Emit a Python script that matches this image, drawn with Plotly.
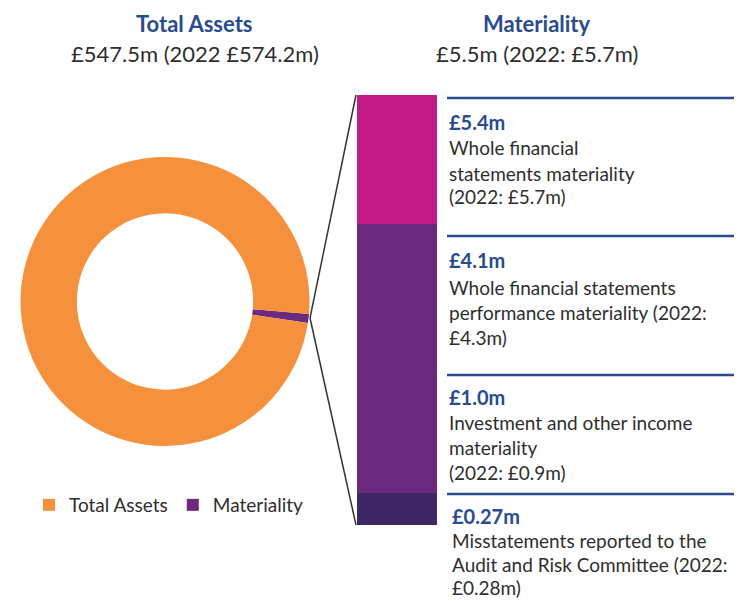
import plotly.graph_objects as go

# page body has an 8px margin, so the figure is drawn 8px in from the top-left
OFF = 8
W, H = 742 - OFF, 601 - OFF

# ---- data ----
donut_labels = ["Materiality", "Total Assets"]
donut_values = [5.5, 547.5]
donut_colors = ["#6B2A7E", "#F5913D"]

bar_segments = ["Misstatements", "Investment", "Performance"]
bar_values = [0.41, 3.44, 1.65]  # visual segment heights (bottom to top)
bar_colors = ["#3F2766", "#6B2A7E", "#C21A86"]

amounts = ["£5.4m", "£4.1m", "£1.0m", "£0.27m"]
descriptions = [
    ["Whole financial", "statements materiality", "(2022: £5.7m)"],
    ["Whole financial statements", "performance materiality (2022:", "£4.3m)"],
    ["Investment and other income", "materiality", "(2022: £0.9m)"],
    ["Misstatements reported to the", "Audit and Risk Committee (2022:", "£0.28m)"],
]

titles = ["Total Assets", "Materiality"]
subtitles = ["£547.5m (2022 £574.2m)", "£5.5m (2022: £5.7m)"]

BLUE = "#2A4B8D"
GREY = "#2E2E2E"
FONT = "Lato"


def px(x):
    return (x - OFF) / W


def py(y):
    return 1 - (y - OFF) / H


fig = go.Figure()

fig.add_trace(go.Pie(
    labels=donut_labels, values=donut_values,
    marker=dict(colors=donut_colors, line=dict(width=0)),
    hole=0.61, sort=False, direction="clockwise", rotation=95,
    textinfo="none", hoverinfo="label+value",
    domain=dict(x=[px(20.5), px(309.5)], y=[py(446), py(157)]),
    showlegend=True,
))

for i, v in enumerate(bar_values):
    fig.add_trace(go.Bar(
        x=[0], y=[v], name=bar_segments[i],
        marker=dict(color=bar_colors[i], line=dict(width=0)),
        width=1, showlegend=False, xaxis="x", yaxis="y", hoverinfo="y",
    ))

fig.update_layout(
    width=W, height=H,
    margin=dict(l=0, r=0, t=0, b=0),
    paper_bgcolor="white", plot_bgcolor="white",
    barmode="stack", bargap=0,
    font=dict(family=FONT, size=20, color=GREY),
    xaxis=dict(domain=[px(357), px(437)], range=[-0.5, 0.5], visible=False, fixedrange=True),
    yaxis=dict(domain=[py(525), py(95)], range=[0, sum(bar_values)], visible=False, fixedrange=True),
    legend=dict(orientation="h", x=px(169), xanchor="center", y=py(505), yanchor="middle",
                font=dict(size=19, color=GREY), itemwidth=30, traceorder="reversed",
                tracegroupgap=0),
)

# titles
for cx, t, s in [(px(194.5), titles[0], subtitles[0]), (px(537), titles[1], subtitles[1])]:
    fig.add_annotation(x=cx, y=py(24), xref="paper", yref="paper", text=f"<b>{t}</b>",
                       showarrow=False, font=dict(size=22, color=BLUE), xanchor="center", yanchor="middle")
    fig.add_annotation(x=cx, y=py(53), xref="paper", yref="paper", text=s,
                       showarrow=False, font=dict(size=22, color=GREY), xanchor="center", yanchor="middle")

# connector lines from donut slice to bar
for yb in (95, 525):
    fig.add_shape(type="line", xref="paper", yref="paper",
                  x0=px(310), y0=py(318), x1=px(356), y1=py(yb),
                  line=dict(color="#333333", width=1.5))

# separators and text blocks
sep_y = [98, 236, 375, 494]
amt_y = [[122, 148, 173, 197], [260, 287, 312, 337], [397, 422, 447, 472], [516, 540, 564, 587]]
text_x = [447, 447, 447, 450]
for k in range(4):
    fig.add_shape(type="line", xref="paper", yref="paper",
                  x0=px(447), x1=1, y0=py(sep_y[k]), y1=py(sep_y[k]),
                  line=dict(color=BLUE, width=2.5))
    fig.add_annotation(x=px(text_x[k]), y=py(amt_y[k][0]), xref="paper", yref="paper",
                       text=f"<b>{amounts[k]}</b>", showarrow=False,
                       font=dict(size=20, color=BLUE), xanchor="left", yanchor="middle")
    for j, line in enumerate(descriptions[k]):
        fig.add_annotation(x=px(text_x[k]), y=py(amt_y[k][j + 1]), xref="paper", yref="paper",
                           text=line, showarrow=False,
                           font=dict(size=19, color=GREY), xanchor="left", yanchor="middle")

fig.write_html("out.html")
